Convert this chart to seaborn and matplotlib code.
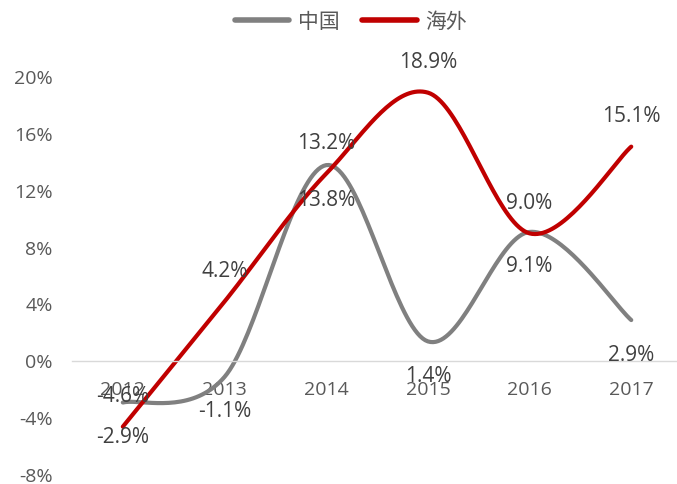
import numpy as np
import pandas as pd
import matplotlib
matplotlib.use("Agg")
import matplotlib.pyplot as plt
import seaborn as sns
from matplotlib.lines import Line2D
from matplotlib.transforms import offset_copy

years = ["2012", "2013", "2014", "2015", "2016", "2017"]
china = [-2.9, -1.1, 13.8, 1.4, 9.1, 2.9]
overseas = [-4.6, 4.2, 13.2, 18.9, 9.0, 15.1]
series_names = ["中国", "海外"]
colors = ["#808080", "#C00000"]
yticks = [-8, -4, 0, 4, 8, 12, 16, 20]

sns.set_theme(style="white")
plt.rcParams['font.family'] = ['Open Sans', 'Noto Sans CJK SC', 'DejaVu Sans']

def smooth(xs, ys, n=40):
    P = np.column_stack([xs, ys]).astype(float)
    P = np.vstack([P[0], P, P[-1]])
    out = []
    t = np.linspace(0, 1, n)[:, None]
    for i in range(1, len(P) - 2):
        p0, p3 = P[i], P[i + 1]
        c1 = p0 + (P[i + 1] - P[i - 1]) / 6
        c2 = p3 - (P[i + 2] - P[i]) / 6
        seg = (1 - t) ** 3 * p0 + 3 * (1 - t) ** 2 * t * c1 + 3 * (1 - t) * t ** 2 * c2 + t ** 3 * p3
        out.append(seg if i == 1 else seg[1:])
    return np.vstack(out)

fig = plt.figure(figsize=(6.77, 4.84), dpi=100)
ax = fig.add_axes([72 / 677, 9 / 484, 605 / 677, 398 / 484])

xs = np.arange(len(years))
frames = []
for name, vals in zip(series_names, [china, overseas]):
    c = smooth(xs, vals)
    frames.append(pd.DataFrame({"x": c[:, 0], "y": c[:, 1], "series": name}))
df = pd.concat(frames, ignore_index=True)
sns.lineplot(data=df, x="x", y="y", hue="series", palette=dict(zip(series_names, colors)),
             sort=False, estimator=None, units="series", linewidth=3, ax=ax, legend=False)
for l in ax.lines:
    l.set_clip_on(False)
    l.set_solid_capstyle("round")

for s in ["top", "right", "left"]:
    ax.spines[s].set_visible(False)
ax.spines["bottom"].set_position(("data", 0))
ax.spines["bottom"].set_color("#D9D9D9")
ax.spines["bottom"].set_linewidth(1)

ax.set_xlim(-0.5, 5.45)
ax.set_ylim(-8, 20)
ax.set_yticks(yticks)
ax.set_yticklabels([f"{v}%" for v in yticks], fontsize=14, color="#595959")
ax.set_xticks(xs)
ax.set_xticklabels(years, fontsize=14, color="#595959")
ax.tick_params(axis="x", length=0, pad=14)
ax.tick_params(axis="y", length=0, pad=14)
ax.set_xlabel("")
ax.set_ylabel("")

up = offset_copy(ax.transData, fig=fig, x=0, y=30, units="dots")
down = offset_copy(ax.transData, fig=fig, x=0, y=-35, units="dots")
for i in range(len(years)):
    ax.text(i, overseas[i], f"{overseas[i]:.1f}%", transform=up, ha="center", va="center",
            fontsize=15, color="#404040", clip_on=False)
    ax.text(i, china[i], f"{china[i]:.1f}%", transform=down, ha="center", va="center",
            fontsize=15, color="#404040", clip_on=False)

handles = [Line2D([0], [0], color=c, lw=4, solid_capstyle="round") for c in colors]
fig.legend(handles, series_names, loc="center", bbox_to_anchor=(351 / 677, 1 - 22 / 484),
           ncol=2, frameon=False, fontsize=15, handlelength=2.6, handletextpad=0.4,
           columnspacing=1.1, labelcolor="#595959")

fig.savefig("out.png", dpi=100)
